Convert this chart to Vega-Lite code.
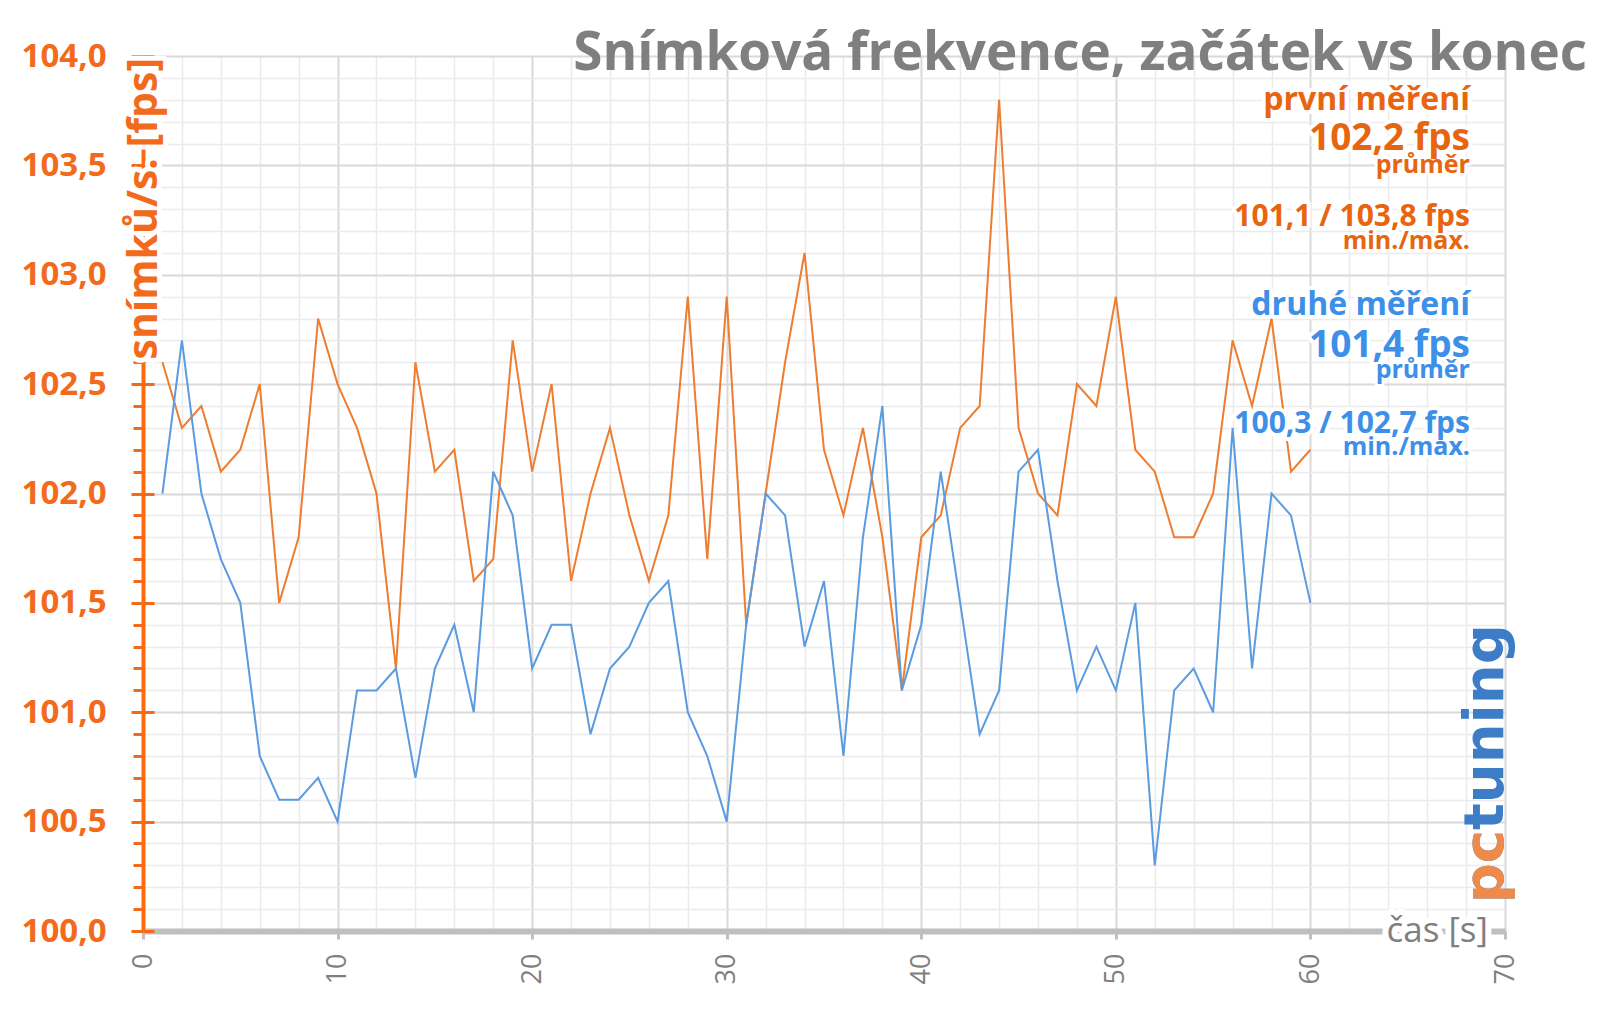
{
  "$schema": "https://vega.github.io/schema/vega-lite/v6.json",
  "autosize": "none",
  "width": 1362,
  "height": 875,
  "padding": {"left": 143, "top": 56, "right": 95, "bottom": 84},
  "background": "white",
  "config": {"view": {"stroke": null}, "font": "Open Sans"},
  "title": {
    "text": "Snímková frekvence, začátek vs konec",
    "anchor": "end", "frame": "group", "font": "Open Sans", "fontWeight": "bold",
    "fontSize": 53, "color": "#7F7F7F", "baseline": "alphabetic", "offset": 0, "dx": 82, "dy": 83
  },
  "datasets": {
    "fps": [
      {"t":1,"series":"první měření","fps":102.6},{"t":2,"series":"první měření","fps":102.3},{"t":3,"series":"první měření","fps":102.4},{"t":4,"series":"první měření","fps":102.1},{"t":5,"series":"první měření","fps":102.2},
      {"t":6,"series":"první měření","fps":102.5},{"t":7,"series":"první měření","fps":101.5},{"t":8,"series":"první měření","fps":101.8},{"t":9,"series":"první měření","fps":102.8},{"t":10,"series":"první měření","fps":102.5},
      {"t":11,"series":"první měření","fps":102.3},{"t":12,"series":"první měření","fps":102.0},{"t":13,"series":"první měření","fps":101.2},{"t":14,"series":"první měření","fps":102.6},{"t":15,"series":"první měření","fps":102.1},
      {"t":16,"series":"první měření","fps":102.2},{"t":17,"series":"první měření","fps":101.6},{"t":18,"series":"první měření","fps":101.7},{"t":19,"series":"první měření","fps":102.7},{"t":20,"series":"první měření","fps":102.1},
      {"t":21,"series":"první měření","fps":102.5},{"t":22,"series":"první měření","fps":101.6},{"t":23,"series":"první měření","fps":102.0},{"t":24,"series":"první měření","fps":102.3},{"t":25,"series":"první měření","fps":101.9},
      {"t":26,"series":"první měření","fps":101.6},{"t":27,"series":"první měření","fps":101.9},{"t":28,"series":"první měření","fps":102.9},{"t":29,"series":"první měření","fps":101.7},{"t":30,"series":"první měření","fps":102.9},
      {"t":31,"series":"první měření","fps":101.4},{"t":32,"series":"první měření","fps":102.0},{"t":33,"series":"první měření","fps":102.6},{"t":34,"series":"první měření","fps":103.1},{"t":35,"series":"první měření","fps":102.2},
      {"t":36,"series":"první měření","fps":101.9},{"t":37,"series":"první měření","fps":102.3},{"t":38,"series":"první měření","fps":101.8},{"t":39,"series":"první měření","fps":101.1},{"t":40,"series":"první měření","fps":101.8},
      {"t":41,"series":"první měření","fps":101.9},{"t":42,"series":"první měření","fps":102.3},{"t":43,"series":"první měření","fps":102.4},{"t":44,"series":"první měření","fps":103.8},{"t":45,"series":"první měření","fps":102.3},
      {"t":46,"series":"první měření","fps":102.0},{"t":47,"series":"první měření","fps":101.9},{"t":48,"series":"první měření","fps":102.5},{"t":49,"series":"první měření","fps":102.4},{"t":50,"series":"první měření","fps":102.9},
      {"t":51,"series":"první měření","fps":102.2},{"t":52,"series":"první měření","fps":102.1},{"t":53,"series":"první měření","fps":101.8},{"t":54,"series":"první měření","fps":101.8},{"t":55,"series":"první měření","fps":102.0},
      {"t":56,"series":"první měření","fps":102.7},{"t":57,"series":"první měření","fps":102.4},{"t":58,"series":"první měření","fps":102.8},{"t":59,"series":"první měření","fps":102.1},{"t":60,"series":"první měření","fps":102.2},
      {"t":1,"series":"druhé měření","fps":102.0},{"t":2,"series":"druhé měření","fps":102.7},{"t":3,"series":"druhé měření","fps":102.0},{"t":4,"series":"druhé měření","fps":101.7},{"t":5,"series":"druhé měření","fps":101.5},
      {"t":6,"series":"druhé měření","fps":100.8},{"t":7,"series":"druhé měření","fps":100.6},{"t":8,"series":"druhé měření","fps":100.6},{"t":9,"series":"druhé měření","fps":100.7},{"t":10,"series":"druhé měření","fps":100.5},
      {"t":11,"series":"druhé měření","fps":101.1},{"t":12,"series":"druhé měření","fps":101.1},{"t":13,"series":"druhé měření","fps":101.2},{"t":14,"series":"druhé měření","fps":100.7},{"t":15,"series":"druhé měření","fps":101.2},
      {"t":16,"series":"druhé měření","fps":101.4},{"t":17,"series":"druhé měření","fps":101.0},{"t":18,"series":"druhé měření","fps":102.1},{"t":19,"series":"druhé měření","fps":101.9},{"t":20,"series":"druhé měření","fps":101.2},
      {"t":21,"series":"druhé měření","fps":101.4},{"t":22,"series":"druhé měření","fps":101.4},{"t":23,"series":"druhé měření","fps":100.9},{"t":24,"series":"druhé měření","fps":101.2},{"t":25,"series":"druhé měření","fps":101.3},
      {"t":26,"series":"druhé měření","fps":101.5},{"t":27,"series":"druhé měření","fps":101.6},{"t":28,"series":"druhé měření","fps":101.0},{"t":29,"series":"druhé měření","fps":100.8},{"t":30,"series":"druhé měření","fps":100.5},
      {"t":31,"series":"druhé měření","fps":101.4},{"t":32,"series":"druhé měření","fps":102.0},{"t":33,"series":"druhé měření","fps":101.9},{"t":34,"series":"druhé měření","fps":101.3},{"t":35,"series":"druhé měření","fps":101.6},
      {"t":36,"series":"druhé měření","fps":100.8},{"t":37,"series":"druhé měření","fps":101.8},{"t":38,"series":"druhé měření","fps":102.4},{"t":39,"series":"druhé měření","fps":101.1},{"t":40,"series":"druhé měření","fps":101.4},
      {"t":41,"series":"druhé měření","fps":102.1},{"t":42,"series":"druhé měření","fps":101.5},{"t":43,"series":"druhé měření","fps":100.9},{"t":44,"series":"druhé měření","fps":101.1},{"t":45,"series":"druhé měření","fps":102.1},
      {"t":46,"series":"druhé měření","fps":102.2},{"t":47,"series":"druhé měření","fps":101.6},{"t":48,"series":"druhé měření","fps":101.1},{"t":49,"series":"druhé měření","fps":101.3},{"t":50,"series":"druhé měření","fps":101.1},
      {"t":51,"series":"druhé měření","fps":101.5},{"t":52,"series":"druhé měření","fps":100.3},{"t":53,"series":"druhé měření","fps":101.1},{"t":54,"series":"druhé měření","fps":101.2},{"t":55,"series":"druhé měření","fps":101.0},
      {"t":56,"series":"druhé měření","fps":102.3},{"t":57,"series":"druhé měření","fps":101.2},{"t":58,"series":"druhé měření","fps":102.0},{"t":59,"series":"druhé měření","fps":101.9},{"t":60,"series":"druhé měření","fps":101.5}
    ],
    "notes": [
      {"series":"první měření","role":"name","text":"první měření","fps":103.752},
      {"series":"první měření","role":"avg","text":"102,2 fps","fps":103.569},
      {"series":"první měření","role":"caption","text":"průměr","fps":103.464},
      {"series":"první měření","role":"range","text":"101,1 / 103,8 fps","fps":103.222},
      {"series":"první měření","role":"caption","text":"min./max.","fps":103.117},
      {"series":"druhé měření","role":"name","text":"druhé měření","fps":102.815},
      {"series":"druhé měření","role":"avg","text":"101,4 fps","fps":102.623},
      {"series":"druhé měření","role":"caption","text":"průměr","fps":102.529},
      {"series":"druhé měření","role":"range","text":"100,3 / 102,7 fps","fps":102.276},
      {"series":"druhé měření","role":"caption","text":"min./max.","fps":102.175}
    ],
    "axisTitles": [
      {"axis":"y","label":"snímků/s. [fps]"},
      {"axis":"x","label":"čas [s]"}
    ],
    "logo": [
      {"part":"all","label":"pctuning"},
      {"part":"pc","label":"pc"}
    ]
  },
  "resolve": {"axis": {"x": "independent", "y": "independent"}},
  "layer": [
    {
      "data": {"name": "fps"},
      "mark": {"type": "line", "opacity": 0},
      "encoding": {
        "x": {"field": "t", "type": "quantitative", "scale": {"domain": [0, 70], "nice": false},
          "axis": {"orient": "bottom", "values": [2,4,6,8,12,14,16,18,22,24,26,28,32,34,36,38,42,44,46,48,52,54,56,58,62,64,66,68],
            "grid": true, "gridColor": "#EBEBEB", "gridWidth": 1.5, "labels": false, "ticks": false, "domain": false, "title": null}},
        "y": {"field": "fps", "type": "quantitative", "scale": {"domain": [100, 104], "zero": false, "nice": false},
          "axis": {"orient": "left", "values": [100.1,100.2,100.3,100.4,100.6,100.7,100.8,100.9,101.1,101.2,101.3,101.4,101.6,101.7,101.8,101.9,102.1,102.2,102.3,102.4,102.6,102.7,102.8,102.9,103.1,103.2,103.3,103.4,103.6,103.7,103.8,103.9],
            "grid": true, "gridColor": "#EBEBEB", "gridWidth": 1.5, "labels": false, "ticks": true, "tickColor": "#F26B1D", "tickSize": 10, "tickWidth": 3, "domain": false, "title": null}}
      }
    },
    {
      "data": {"name": "fps"},
      "mark": {"type": "line", "opacity": 0},
      "encoding": {
        "x": {"field": "t", "type": "quantitative",
          "axis": {"orient": "bottom", "values": [0,10,20,30,40,50,60,70], "grid": true, "gridColor": "#D9D9D9", "gridWidth": 2,
            "labelAngle": 270, "labelFont": "Open Sans", "labelFontSize": 27, "labelColor": "#808080", "labelPadding": 14,
            "labelFlush": false, "labelOverlap": false, "labelBound": false,
            "ticks": true, "tickColor": "#BFBFBF", "tickSize": 8, "tickWidth": 3,
            "domain": true, "domainColor": "#BFBFBF", "domainWidth": 6, "title": null}},
        "y": {"field": "fps", "type": "quantitative",
          "axis": {"orient": "left", "values": [100,100.5,101,101.5,102,102.5,103,103.5,104], "grid": true, "gridColor": "#D9D9D9", "gridWidth": 2,
            "labelExpr": "replace(format(datum.value, '.1f'), '.', ',')", "labelFont": "Open Sans", "labelFontWeight": "bold",
            "labelFontSize": 33, "labelColor": "#F26B1D", "labelPadding": 25, "labelFlush": false, "labelOverlap": false, "labelBound": false,
            "ticks": true, "tickColor": "#F26B1D", "tickSize": 12, "tickWidth": 3,
            "domain": true, "domainColor": "#FF6A0D", "domainWidth": 4, "title": null}}
      }
    },
    {
      "data": {"name": "fps"},
      "mark": {"type": "line", "opacity": 0},
      "encoding": {
        "x": {"field": "t", "type": "quantitative", "axis": null},
        "y": {"field": "fps", "type": "quantitative",
          "axis": {"orient": "left", "values": [100,100.5,101,101.5,102,102.5,103,103.5,104], "grid": false, "labels": false,
            "ticks": true, "tickColor": "#F26B1D", "tickSize": -11, "tickWidth": 3, "domain": false, "title": null}}
      }
    },
    {
      "data": {"name": "fps"},
      "mark": {"type": "line", "strokeWidth": 2},
      "encoding": {
        "x": {"field": "t", "type": "quantitative", "axis": null},
        "y": {"field": "fps", "type": "quantitative", "axis": null},
        "color": {"field": "series", "type": "nominal", "scale": {"domain": ["první měření", "druhé měření"], "range": ["#ED7D31", "#5B9BDF"]}, "legend": null}
      }
    },
    {
      "data": {"name": "logo"},
      "mark": {"type": "text", "angle": 270, "align": "left", "baseline": "middle", "font": "DejaVu Sans", "fontWeight": "bold", "fontSize": 56},
      "encoding": {
        "x": {"datum": 69.0, "type": "quantitative", "axis": null},
        "y": {"datum": 100.127, "type": "quantitative", "axis": null},
        "text": {"field": "label"},
        "color": {"condition": {"test": "datum.part === 'pc'", "value": "#F08A4B"}, "value": "#3D7CC6"}
      }
    },
    {
      "data": {"name": "axisTitles"},
      "transform": [{"filter": "datum.axis === 'y'"}],
      "mark": {"type": "text", "angle": 270, "align": "right", "baseline": "middle", "dx": -2, "dy": 2, "font": "Open Sans", "fontWeight": "bold", "fontSize": 41, "fill": "white", "stroke": "white", "strokeWidth": 10, "strokeJoin": "round"},
      "encoding": {"x": {"datum": 0, "type": "quantitative", "axis": null}, "y": {"datum": 104, "type": "quantitative", "axis": null}, "text": {"field": "label"}}
    },
    {
      "data": {"name": "axisTitles"},
      "transform": [{"filter": "datum.axis === 'y'"}],
      "mark": {"type": "text", "angle": 270, "align": "right", "baseline": "middle", "dx": -2, "dy": 2, "font": "Open Sans", "fontWeight": "bold", "fontSize": 41, "fill": "#F26B1D"},
      "encoding": {"x": {"datum": 0, "type": "quantitative", "axis": null}, "y": {"datum": 104, "type": "quantitative", "axis": null}, "text": {"field": "label"}}
    },
    {
      "data": {"name": "axisTitles"},
      "transform": [{"filter": "datum.axis === 'x'"}],
      "mark": {"type": "text", "align": "right", "baseline": "middle", "dx": -17, "dy": 0, "font": "Open Sans", "fontSize": 35, "fill": "white", "stroke": "white", "strokeWidth": 12, "strokeJoin": "round"},
      "encoding": {"x": {"datum": 70, "type": "quantitative", "axis": null}, "y": {"datum": 100, "type": "quantitative", "axis": null}, "text": {"field": "label"}}
    },
    {
      "data": {"name": "axisTitles"},
      "transform": [{"filter": "datum.axis === 'x'"}],
      "mark": {"type": "text", "align": "right", "baseline": "middle", "dx": -17, "dy": 0, "font": "Open Sans", "fontSize": 35, "fill": "#7F7F7F"},
      "encoding": {"x": {"datum": 70, "type": "quantitative", "axis": null}, "y": {"datum": 100, "type": "quantitative", "axis": null}, "text": {"field": "label"}}
    },
    {
      "data": {"name": "notes"},
      "transform": [{"filter": "datum.role === 'name'"}],
      "mark": {"type": "text", "align": "right", "baseline": "alphabetic", "font": "Open Sans", "fontWeight": "bold", "fontSize": 32, "fill": "white", "stroke": "white", "strokeWidth": 8, "strokeJoin": "round"},
      "encoding": {"x": {"datum": 68.2, "type": "quantitative", "axis": null}, "y": {"field": "fps", "type": "quantitative", "axis": null}, "text": {"field": "text"}}
    },
    {
      "data": {"name": "notes"},
      "transform": [{"filter": "datum.role === 'avg'"}],
      "mark": {"type": "text", "align": "right", "baseline": "alphabetic", "font": "Open Sans", "fontWeight": "bold", "fontSize": 37, "fill": "white", "stroke": "white", "strokeWidth": 8, "strokeJoin": "round"},
      "encoding": {"x": {"datum": 68.2, "type": "quantitative", "axis": null}, "y": {"field": "fps", "type": "quantitative", "axis": null}, "text": {"field": "text"}}
    },
    {
      "data": {"name": "notes"},
      "transform": [{"filter": "datum.role === 'range'"}],
      "mark": {"type": "text", "align": "right", "baseline": "alphabetic", "font": "Open Sans", "fontWeight": "bold", "fontSize": 30, "fill": "white", "stroke": "white", "strokeWidth": 8, "strokeJoin": "round"},
      "encoding": {"x": {"datum": 68.2, "type": "quantitative", "axis": null}, "y": {"field": "fps", "type": "quantitative", "axis": null}, "text": {"field": "text"}}
    },
    {
      "data": {"name": "notes"},
      "transform": [{"filter": "datum.role === 'caption'"}],
      "mark": {"type": "text", "align": "right", "baseline": "alphabetic", "font": "Open Sans", "fontWeight": "bold", "fontSize": 25, "fill": "white", "stroke": "white", "strokeWidth": 6, "strokeJoin": "round"},
      "encoding": {"x": {"datum": 68.2, "type": "quantitative", "axis": null}, "y": {"field": "fps", "type": "quantitative", "axis": null}, "text": {"field": "text"}}
    },
    {
      "data": {"name": "notes"},
      "transform": [{"filter": "datum.role === 'name'"}],
      "mark": {"type": "text", "align": "right", "baseline": "alphabetic", "font": "Open Sans", "fontWeight": "bold", "fontSize": 32},
      "encoding": {"x": {"datum": 68.2, "type": "quantitative", "axis": null}, "y": {"field": "fps", "type": "quantitative", "axis": null}, "text": {"field": "text"},
        "color": {"condition": {"test": "datum.series === 'první měření'", "value": "#E8650F"}, "value": "#3D8FE8"}}
    },
    {
      "data": {"name": "notes"},
      "transform": [{"filter": "datum.role === 'avg'"}],
      "mark": {"type": "text", "align": "right", "baseline": "alphabetic", "font": "Open Sans", "fontWeight": "bold", "fontSize": 37},
      "encoding": {"x": {"datum": 68.2, "type": "quantitative", "axis": null}, "y": {"field": "fps", "type": "quantitative", "axis": null}, "text": {"field": "text"},
        "color": {"condition": {"test": "datum.series === 'první měření'", "value": "#E8650F"}, "value": "#3D8FE8"}}
    },
    {
      "data": {"name": "notes"},
      "transform": [{"filter": "datum.role === 'range'"}],
      "mark": {"type": "text", "align": "right", "baseline": "alphabetic", "font": "Open Sans", "fontWeight": "bold", "fontSize": 30},
      "encoding": {"x": {"datum": 68.2, "type": "quantitative", "axis": null}, "y": {"field": "fps", "type": "quantitative", "axis": null}, "text": {"field": "text"},
        "color": {"condition": {"test": "datum.series === 'první měření'", "value": "#E8650F"}, "value": "#3D8FE8"}}
    },
    {
      "data": {"name": "notes"},
      "transform": [{"filter": "datum.role === 'caption'"}],
      "mark": {"type": "text", "align": "right", "baseline": "alphabetic", "font": "Open Sans", "fontWeight": "bold", "fontSize": 25},
      "encoding": {"x": {"datum": 68.2, "type": "quantitative", "axis": null}, "y": {"field": "fps", "type": "quantitative", "axis": null}, "text": {"field": "text"},
        "color": {"condition": {"test": "datum.series === 'první měření'", "value": "#E8650F"}, "value": "#3D8FE8"}}
    }
  ]
}
